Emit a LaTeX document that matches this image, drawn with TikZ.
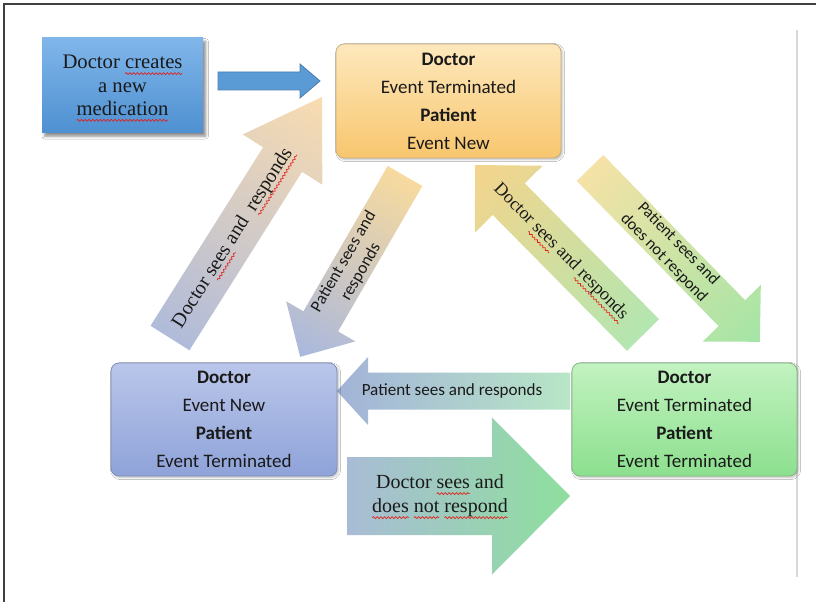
\documentclass[tikz,border=0pt]{standalone}
\usepackage{fontspec}
\setmainfont{Liberation Serif}
\newfontfamily\boxfont{Carlito}
\usetikzlibrary{shadows.blur,decorations.pathmorphing}

\definecolor{framegray}{HTML}{404040}
\definecolor{rulegray}{HTML}{D8D8D8}
\definecolor{spell}{HTML}{E0201B}
\definecolor{inktext}{HTML}{1A1A1A}
% start box and its arrow
\definecolor{startTop}{HTML}{80B6EA}
\definecolor{startBot}{HTML}{4E90D1}
\definecolor{startArrow}{HTML}{5B9BD5}
\definecolor{startArrowLine}{HTML}{4A7DB0}
% state boxes
\definecolor{orTop}{HTML}{FDE8BC}
\definecolor{orBot}{HTML}{F8C66E}
\definecolor{orLine}{HTML}{C8AD80}
\definecolor{liTop}{HTML}{BAC6EA}
\definecolor{liBot}{HTML}{8FA3D9}
\definecolor{liLine}{HTML}{7F8DB8}
\definecolor{grTop}{HTML}{C2F2C0}
\definecolor{grBot}{HTML}{8CE08E}
\definecolor{grLine}{HTML}{82B882}
% transition arrows
\definecolor{aTail}{HTML}{B0BBDA}
\definecolor{aTip}{HTML}{F9DCB0}
\definecolor{bTail}{HTML}{F8DA9E}
\definecolor{bTip}{HTML}{A9B8DE}
\definecolor{cTail}{HTML}{B3E6B0}
\definecolor{cTip}{HTML}{F4D48C}
\definecolor{dTail}{HTML}{F5E2A6}
\definecolor{dTip}{HTML}{A4E5A6}
\definecolor{eTail}{HTML}{B8E6C6}
\definecolor{eTip}{HTML}{A2B3D8}
\definecolor{fTail}{HTML}{A9BCD6}
\definecolor{fTip}{HTML}{8EDF9E}

% red wavy underline used by the word processor's spell checker
\newsavebox\sqbox
\newdimen\sqwidth
\newcommand\squig[1]{\sbox\sqbox{#1}\sqwidth=\wd\sqbox
  \rlap{\tikz[baseline=0pt]{\path (0pt,0pt);
      \draw[overlay, spell, line width=0.5pt, decorate,
      decoration={snake, amplitude=0.75pt, segment length=2.8pt}]
      (0pt,-3.6pt) -- (\sqwidth,-3.6pt);}}\usebox\sqbox}

% block arrow: #1 tail coordinate, #2 direction (deg), #3 length, #4 shaft width,
% #5 head width, #6 head length, #7 fill style, #8 label code (local frame)
\newcommand\blockarrow[8]{%
  \begin{scope}[transform canvas={shift={(#1)},rotate=#2}]
    \path[#7] (0,-#4/2) -- ({#3-#6},-#4/2) -- ({#3-#6},-#5/2) -- (#3,0)
      -- ({#3-#6},#5/2) -- ({#3-#6},#4/2) -- (0,#4/2) -- cycle;
    #8
  \end{scope}}

\tikzset{
  statebox/.style={draw, rounded corners=6pt, line width=0.6pt, inner sep=0pt,
    outer sep=0pt, align=center, text=inktext,
    font=\boxfont\fontsize{14.3}{21}\selectfont,
    blur shadow={shadow xshift=1.2pt, shadow yshift=-1.2pt, shadow blur radius=1.5pt, shadow opacity=25}},
  sanslbl/.style={align=center, text=inktext, inner sep=0pt,
    font=\boxfont\fontsize{12.8}{15}\selectfont},
  seriflbl/.style={align=center, text=inktext, inner sep=0pt,
    font=\fontsize{15}{18}\selectfont},
}

\begin{document}
\begin{tikzpicture}[x=0.75pt,y=-0.75pt]
\useasboundingbox (0,0) rectangle (816,602);
\fill[white] (0,0) rectangle (816,602);

% page frame and margin rule
\draw[framegray, line width=1.5pt] (3,4) -- (816,4);
\draw[framegray, line width=1.5pt] (4,4) -- (4,602);
\draw[rulegray, line width=1.5pt] (797,30) -- (797,577);

% arrow tails
\coordinate (newTail) at (218,81);
\coordinate (dsrUp)   at (170,338);
\coordinate (psrDown) at (405,176);
\coordinate (dsrBack) at (643,335);
\coordinate (psnDown) at (590,168);
\coordinate (psrLeft) at (570,391);
\coordinate (dsnRight) at (347,496);

% Doctor creates -> first state
\blockarrow{newTail}{0}{102}{18}{34}{20}
  {fill=startArrow, draw=startArrowLine, line width=0.6pt}{}

% Doctor sees and responds (lower left -> top)
\blockarrow{dsrUp}{57.76}{285}{46}{94}{74}
  {left color=aTail, right color=aTip}
  {\node[seriflbl] (lblA) at (118,0) {Doctor \squig{sees} and~~\squig{responds}};}

% Patient sees and responds (top -> lower left)
\blockarrow{psrDown}{-120.1}{209}{40}{80}{41}
  {left color=bTail, right color=bTip}
  {\node[sanslbl, rotate=180] (lblB) at (105,0) {Patient sees and\\responds};}

% Doctor sees and responds (lower right -> top)
\blockarrow{dsrBack}{134.66}{239}{45}{95}{48}
  {left color=cTail, right color=cTip}
  {\node[seriflbl, rotate=180, font=\fontsize{13.5}{16}\selectfont] (lblC) at (117,0) {Doctor \squig{sees} and \squig{responds}};}

% Patient sees and does not respond (top -> lower right)
\blockarrow{psnDown}{-45.67}{243}{37}{81}{40}
  {left color=dTail, right color=dTip}
  {\node[sanslbl, font=\boxfont\fontsize{12.3}{15}\selectfont] (lblD) at (116,0) {Patient sees and\\does not respond};}

% Patient sees and responds (lower right -> lower left)
\blockarrow{psrLeft}{180}{233}{37}{68}{31}
  {left color=eTail, right color=eTip}
  {\node[sanslbl, rotate=180] (lblE) at (118,0) {Patient sees and responds};}

% Doctor sees and does not respond (lower left -> lower right)
\blockarrow{dsnRight}{0}{223}{78}{157}{78}
  {left color=fTail, right color=fTip}
  {\node[seriflbl] (lblF) at (93,0) {Doctor \squig{sees} and\\\squig{does} \squig{not} \squig{respond}};}

% states
\node[draw=none, inner sep=0pt, outer sep=0pt, align=center, text=inktext,
      minimum width=120.75pt, minimum height=71.25pt,
      top color=startTop, bottom color=startBot,
      font=\fontsize{15.5}{17.5}\selectfont,
      blur shadow={shadow xshift=2pt, shadow yshift=-2.5pt, shadow blur radius=2pt, shadow opacity=45}]
  (create) at (122.5,85.5) {Doctor \squig{creates}\\a new\\\squig{medication}};

\node[statebox, draw=orLine, top color=orTop, bottom color=orBot,
      minimum width=168.75pt, minimum height=85.5pt]
  (stTop) at (448.5,101) {\textbf{Doctor}\\Event Terminated\\\textbf{Patient}\\Event New};

\node[statebox, draw=liLine, top color=liTop, bottom color=liBot,
      minimum width=169.5pt, minimum height=84.75pt]
  (stLeft) at (224,419.5) {\textbf{Doctor}\\Event New\\\textbf{Patient}\\Event Terminated};

\node[statebox, draw=grLine, top color=grTop, bottom color=grBot,
      minimum width=168.75pt, minimum height=84.75pt]
  (stRight) at (684.5,419.5) {\textbf{Doctor}\\Event Terminated\\\textbf{Patient}\\Event Terminated};
\end{tikzpicture}
\end{document}
